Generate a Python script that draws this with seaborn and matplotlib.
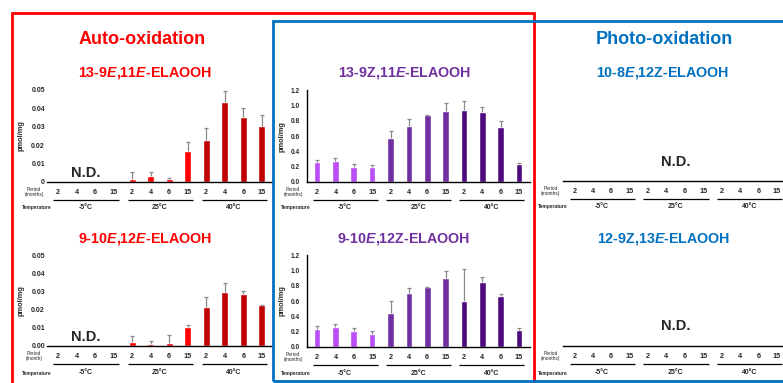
import numpy as np
import pandas as pd
import matplotlib
matplotlib.use("Agg")
import matplotlib.pyplot as plt
import seaborn as sns
from matplotlib.transforms import blended_transform_factory, ScaledTranslation
from matplotlib.patches import Rectangle

# ---------------------------------------------------------------- data
temperatures = ["-5°C", "25°C", "40°C"]
periods = ["2", "4", "6", "15"]
nan = np.nan

# Auto-oxidation products (pmol/mg); -5°C samples were not detected
ee13_mean = [nan, nan, nan, nan, 0.0015, 0.0030, 0.0015, 0.0167, 0.0227, 0.0435, 0.0353, 0.0304]
ee13_sd = [nan, nan, nan, nan, 0.0038, 0.0023, 0.0007, 0.0048, 0.0068, 0.0058, 0.0047, 0.0058]
ee9_mean = [nan, nan, nan, nan, 0.0022, 0.0011, 0.0016, 0.0104, 0.0214, 0.0297, 0.0286, 0.0223]
ee9_sd = [nan, nan, nan, nan, 0.0031, 0.0015, 0.0046, 0.0010, 0.0053, 0.0047, 0.0014, 0.0004]

# Products common to both oxidation routes (pmol/mg)
ze13_mean = [0.260, 0.275, 0.195, 0.195, 0.580, 0.730, 0.875, 0.930, 0.940, 0.915, 0.720, 0.236]
ze13_sd = [0.035, 0.035, 0.040, 0.030, 0.085, 0.090, 0.010, 0.100, 0.125, 0.070, 0.075, 0.008]
ez9_mean = [0.237, 0.258, 0.206, 0.166, 0.442, 0.705, 0.784, 0.902, 0.604, 0.854, 0.666, 0.223]
ez9_sd = [0.030, 0.040, 0.035, 0.035, 0.162, 0.066, 0.006, 0.088, 0.412, 0.057, 0.022, 0.022]

# ---------------------------------------------------------------- style
sns.set_theme(style="white")
plt.rcParams["font.family"] = ["Liberation Sans", "DejaVu Sans"]
plt.rcParams["mathtext.fontset"] = "custom"
plt.rcParams["mathtext.it"] = "Liberation Sans:style=italic:weight=bold"
plt.rcParams["mathtext.rm"] = "Liberation Sans:weight=bold"

RED, DARK_RED = "#FF0000", "#C00000"
LIGHT_PURPLE, PURPLE, DARK_PURPLE = "#BA4DF8", "#7030A0", "#4E0B7E"
BLUE = "#0070C0"

W, H, DPI = 783, 383, 100
fig = plt.figure(figsize=(W / DPI, H / DPI), dpi=DPI)
fig.patch.set_facecolor("white")


def px_axes(left, top, right, bottom):
    return fig.add_axes([left / W, 1 - bottom / H, (right - left) / W, (bottom - top) / H])


def offset(ax, dy_px):
    """x in data units, y at the axis line shifted by dy_px pixels."""
    return blended_transform_factory(ax.transData, ax.transAxes) + \
        ScaledTranslation(0, dy_px / DPI, fig.dpi_scale_trans)


def category_axis(ax, xlim, period_label, temp_dy):
    ax.set_xlim(*xlim)
    ax.set_xticks(range(12))
    ax.set_xticklabels(periods * 3, fontsize=5.2, fontweight="bold")
    ax.tick_params(axis="x", length=0, pad=5.0)
    ax.set_xlabel("")
    for s in ("top", "right", "left"):
        ax.spines[s].set_visible(False)
    ax.spines["bottom"].set_color("black")
    ax.spines["bottom"].set_linewidth(1.0)
    ax.text(-1.3, 0, period_label, transform=offset(ax, -10), ha="center", va="center",
            fontsize=3.5, linespacing=1.05)
    ax.text(-1.15, 0, "Temperature", transform=offset(ax, -temp_dy), ha="center",
            va="center", fontsize=3.5, fontweight="bold")
    for g, t in enumerate(temperatures):
        ax.plot([g * 4 - 0.25, g * 4 + 3.3], [0, 0], transform=offset(ax, -18.4),
                color="black", lw=0.9, clip_on=False, solid_capstyle="butt")
        ax.text(g * 4 + 1.5, 0, t, transform=offset(ax, -temp_dy), ha="center",
                va="center", fontsize=5, fontweight="bold")


def bar_panel(ax, mean, sd, palette, xlim, ylim, yticks, ylabels, ytick_size,
              ypad, period_label, temp_dy, left_spine):
    keys = [f"{t} {p}" for t in temperatures for p in periods]
    df = pd.DataFrame({"key": keys, "temp": np.repeat(temperatures, 4), "mean": mean})
    sns.barplot(data=df, x="key", y="mean", hue="temp", order=keys,
                hue_order=temperatures, palette=palette, dodge=False, width=0.36,
                saturation=1, errorbar=None, legend=False, ax=ax)
    x = np.arange(12)
    m = np.asarray(mean, float)
    e = np.asarray(sd, float)
    ok = ~np.isnan(m)
    eb = ax.errorbar(x[ok], m[ok], yerr=[np.zeros(ok.sum()), e[ok]], fmt="none",
                     ecolor="#8a8a8a", elinewidth=0.9, capsize=1.7, capthick=0.9,
                     zorder=3)
    for cap in eb.lines[1]:
        if np.allclose(cap.get_ydata(), m[ok]):
            cap.set_visible(False)
        else:
            cap.set_color("#2a2a2a")
    category_axis(ax, xlim, period_label, temp_dy)
    ax.set_ylim(*ylim)
    ax.set_yticks(yticks)
    ax.set_yticklabels(ylabels, fontsize=ytick_size, fontweight="bold")
    ax.tick_params(axis="y", length=0, pad=ypad)
    ax.set_ylabel("pmol/mg", fontsize=5.3, fontweight="bold")
    ax.yaxis.set_label_coords(-0.098, 0.5)
    if left_spine:
        ax.spines["left"].set_visible(True)
        ax.spines["left"].set_color("black")
        ax.spines["left"].set_linewidth(1.0)


def nd_label(ax, x, dy):
    ax.text(x, 0, "N.D.", transform=offset(ax, dy), ha="center", va="baseline",
            fontsize=10.5, fontweight="bold")


auto_pal = {"-5°C": RED, "25°C": RED, "40°C": DARK_RED}
both_pal = {"-5°C": LIGHT_PURPLE, "25°C": PURPLE, "40°C": DARK_PURPLE}
left_xlim = (-0.6, 11.55)
mid_xlim = (-0.55, 11.6)
right_xlim = (-0.62, 11.5)

# top row
ax1 = px_axes(47, 90, 272, 181.7)
bar_panel(ax1, ee13_mean, ee13_sd, auto_pal, left_xlim, (0, 0.05),
          [0, 0.01, 0.02, 0.03, 0.04, 0.05], ["0", "0.01", "0.02", "0.03", "0.04", "0.05"],
          5, 1.5, "Period\n(months)", 25.6, False)
nd_label(ax1, 1.5, 5)

ax2 = px_axes(307, 90.5, 530, 182)
bar_panel(ax2, ze13_mean, ze13_sd, both_pal, mid_xlim, (0, 1.2),
          np.arange(0, 1.21, 0.2), [f"{v:.1f}" for v in np.arange(0, 1.21, 0.2)],
          4.7, 5, "Period\n(months)", 25.6, True)

ax3 = px_axes(563, 90, 786, 181)
category_axis(ax3, right_xlim, "Period\n(months)", 25.6)
ax3.set_ylim(0, 1)
ax3.set_yticks([])
nd_label(ax3, 5.5, 15.5)

# bottom row
ax4 = px_axes(47, 255, 272, 346)
bar_panel(ax4, ee9_mean, ee9_sd, auto_pal, left_xlim, (0, 0.05),
          [0, 0.01, 0.02, 0.03, 0.04, 0.05], ["0.00", "0.01", "0.02", "0.03", "0.04", "0.05"],
          5, 1.5, "Period\n(month)", 27, False)
nd_label(ax4, 1.5, 5.3)

ax5 = px_axes(307, 255.3, 530, 346.7)
bar_panel(ax5, ez9_mean, ez9_sd, both_pal, mid_xlim, (0, 1.2),
          np.arange(0, 1.21, 0.2), [f"{v:.1f}" for v in np.arange(0, 1.21, 0.2)],
          4.7, 5, "Period\n(months)", 27, True)

ax6 = px_axes(563, 255, 786, 346)
category_axis(ax6, right_xlim, "Period\n(months)", 27)
ax6.set_ylim(0, 1)
ax6.set_yticks([])
nd_label(ax6, 5.5, 16)


# ---------------------------------------------------------------- titles
def ftext(x, y, s, color, size):
    fig.text(x / W, 1 - y / H, s, color=color, fontsize=size, fontweight="bold",
             ha="center", va="center")


ftext(142, 39, "Auto-oxidation", RED, 13)
ftext(664, 39, "Photo-oxidation", BLUE, 13)
ftext(145, 73, r"13-9$\mathit{E}$,11$\mathit{E}$-ELAOOH", RED, 10.3)
ftext(405, 73, r"13-9Z,11$\mathit{E}$-ELAOOH", PURPLE, 10.3)
ftext(663, 73, r"10-8$\mathit{E}$,12Z-ELAOOH", BLUE, 10.3)
ftext(145, 239, r"9-10$\mathit{E}$,12$\mathit{E}$-ELAOOH", RED, 10.3)
ftext(404, 239, r"9-10$\mathit{E}$,12Z-ELAOOH", PURPLE, 10.3)
ftext(664, 239, r"12-9Z,13$\mathit{E}$-ELAOOH", BLUE, 10.3)

# ---------------------------------------------------------------- grouping frames
def frame(left, top, right, bottom, color, z):
    fig.add_artist(Rectangle((left / W, 1 - bottom / H), (right - left) / W,
                             (bottom - top) / H, transform=fig.transFigure,
                             fill=False, edgecolor=color, lw=2.0, zorder=z))


frame(12, 12.5, 534, 395, RED, 10)
frame(272.5, 20.5, 800, 381.3, BLUE, 11)

fig.savefig("out.png", dpi=DPI)
